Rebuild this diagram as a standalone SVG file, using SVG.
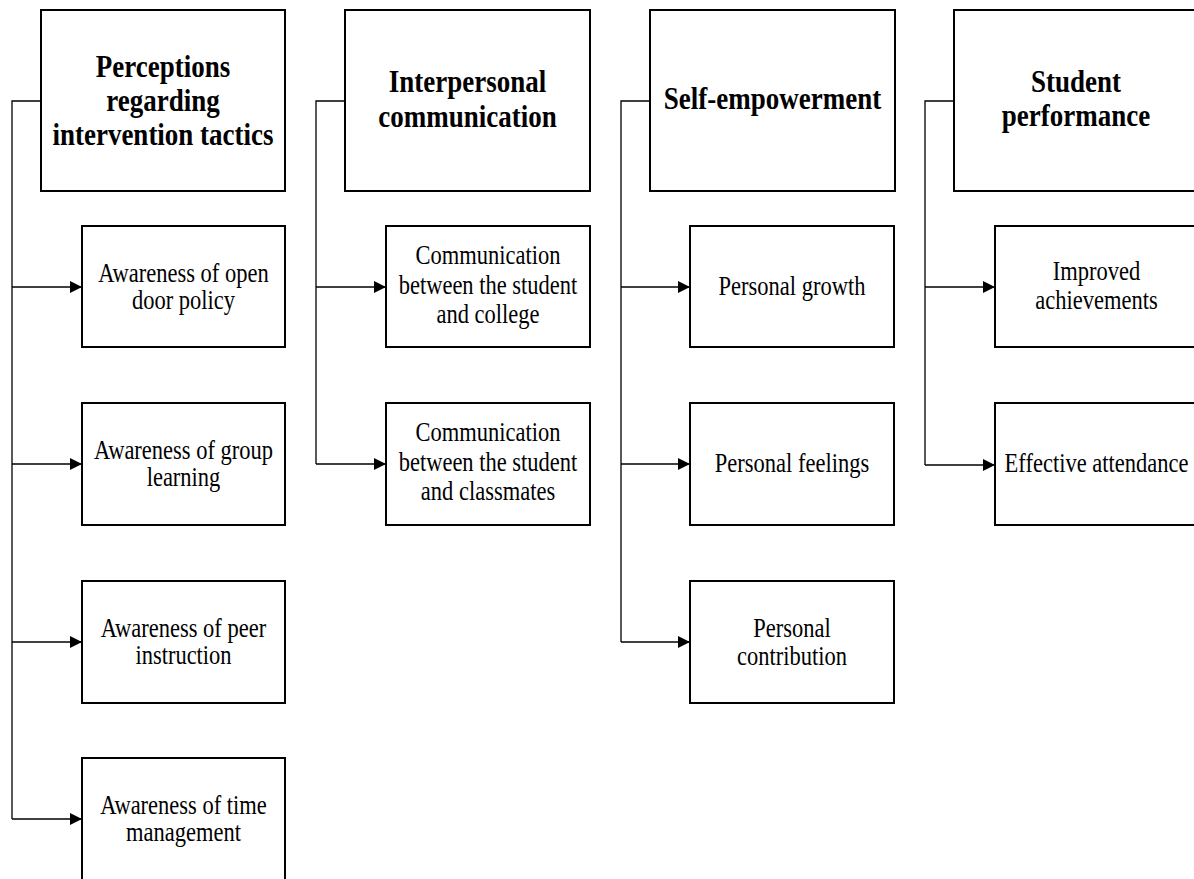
<svg xmlns="http://www.w3.org/2000/svg" width="1194" height="879" viewBox="0 0 1194 879">
<style>
.box{fill:#fff;stroke:#000;stroke-width:2}
.hd{font-family:"Liberation Serif","Times New Roman",serif;font-weight:bold;font-size:27px;text-anchor:middle;fill:#000}
.ch{font-family:"Liberation Serif","Times New Roman",serif;font-size:22.5px;text-anchor:middle;fill:#000}
.ln{fill:none;stroke:#000;stroke-width:1.3}
</style>
<defs>
<marker id="ah" viewBox="0 0 12 12" refX="12" refY="6" markerWidth="12" markerHeight="12" markerUnits="userSpaceOnUse" orient="auto">
<path d="M0,0 L12,6 L0,12 Z" fill="#000"/>
</marker>
</defs>
<rect width="1194" height="879" fill="#fff"/>
<g id="connectors">
<path class="ln" d="M41,101 H12 V819"/>
<path class="ln" d="M12,287 H82" marker-end="url(#ah)"/>
<path class="ln" d="M12,464 H82" marker-end="url(#ah)"/>
<path class="ln" d="M12,642 H82" marker-end="url(#ah)"/>
<path class="ln" d="M12,819 H82" marker-end="url(#ah)"/>
<path class="ln" d="M345,101 H316 V464"/>
<path class="ln" d="M316,287 H386" marker-end="url(#ah)"/>
<path class="ln" d="M316,464 H386" marker-end="url(#ah)"/>
<path class="ln" d="M650,101 H621 V642"/>
<path class="ln" d="M621,287 H690" marker-end="url(#ah)"/>
<path class="ln" d="M621,464 H690" marker-end="url(#ah)"/>
<path class="ln" d="M621,642 H690" marker-end="url(#ah)"/>
<path class="ln" d="M954,101 H925 V465"/>
<path class="ln" d="M925,287 H995" marker-end="url(#ah)"/>
<path class="ln" d="M925,465 H995" marker-end="url(#ah)"/>
</g>
<g id="h1"><rect class="box" x="41" y="10" width="244" height="181"/>
<text class="hd" transform="matrix(1,0,0,1.2,163,77)">Perceptions</text><text class="hd" transform="matrix(1,0,0,1.2,163,111)">regarding</text><text class="hd" transform="matrix(1,0,0,1.2,163,145)">intervention tactics</text></g>
<g id="h2"><rect class="box" x="345" y="10" width="245" height="181"/>
<text class="hd" transform="matrix(1,0,0,1.2,467.5,92)">Interpersonal</text><text class="hd" transform="matrix(1,0,0,1.2,467.5,127)">communication</text></g>
<g id="h3"><rect class="box" x="650" y="10" width="245" height="181"/>
<text class="hd" transform="matrix(1,0,0,1.2,772.5,109)">Self-empowerment</text></g>
<g id="h4"><rect class="box" x="954" y="10" width="250" height="181"/>
<text class="hd" transform="matrix(1,0,0,1.2,1076,92)">Student</text><text class="hd" transform="matrix(1,0,0,1.2,1076,126)">performance</text></g>
<g id="c1a"><rect class="box" x="82" y="226" width="203" height="121"/>
<text class="ch" transform="matrix(1,0,0,1.2,183.5,282)">Awareness of open</text><text class="ch" transform="matrix(1,0,0,1.2,183.5,309)">door policy</text></g>
<g id="c1b"><rect class="box" x="82" y="403" width="203" height="122"/>
<text class="ch" transform="matrix(1,0,0,1.2,183.5,459)">Awareness of group</text><text class="ch" transform="matrix(1,0,0,1.2,183.5,486)">learning</text></g>
<g id="c1c"><rect class="box" x="82" y="581" width="203" height="122"/>
<text class="ch" transform="matrix(1,0,0,1.2,183.5,637)">Awareness of peer</text><text class="ch" transform="matrix(1,0,0,1.2,183.5,664)">instruction</text></g>
<g id="c1d"><rect class="box" x="82" y="758" width="203" height="130"/>
<text class="ch" transform="matrix(1,0,0,1.2,183.5,814)">Awareness of time</text><text class="ch" transform="matrix(1,0,0,1.2,183.5,841)">management</text></g>
<g id="c2a"><rect class="box" x="386" y="226" width="204" height="121"/>
<text class="ch" transform="matrix(1,0,0,1.2,488,264)">Communication</text><text class="ch" transform="matrix(1,0,0,1.2,488,294)">between the student</text><text class="ch" transform="matrix(1,0,0,1.2,488,323)">and college</text></g>
<g id="c2b"><rect class="box" x="386" y="403" width="204" height="122"/>
<text class="ch" transform="matrix(1,0,0,1.2,488,441)">Communication</text><text class="ch" transform="matrix(1,0,0,1.2,488,471)">between the student</text><text class="ch" transform="matrix(1,0,0,1.2,488,500)">and classmates</text></g>
<g id="c3a"><rect class="box" x="690" y="226" width="204" height="121"/>
<text class="ch" transform="matrix(1,0,0,1.2,792,295)">Personal growth</text></g>
<g id="c3b"><rect class="box" x="690" y="403" width="204" height="122"/>
<text class="ch" transform="matrix(1,0,0,1.2,792,472)">Personal feelings</text></g>
<g id="c3c"><rect class="box" x="690" y="581" width="204" height="122"/>
<text class="ch" transform="matrix(1,0,0,1.2,792,637)">Personal</text><text class="ch" transform="matrix(1,0,0,1.2,792,665)">contribution</text></g>
<g id="c4a"><rect class="box" x="995" y="226" width="210" height="121"/>
<text class="ch" transform="matrix(1,0,0,1.2,1096.5,280)">Improved</text><text class="ch" transform="matrix(1,0,0,1.2,1096.5,309)">achievements</text></g>
<g id="c4b"><rect class="box" x="995" y="403" width="210" height="122"/>
<text class="ch" transform="matrix(1,0,0,1.2,1096.5,472)">Effective attendance</text></g>
</svg>
